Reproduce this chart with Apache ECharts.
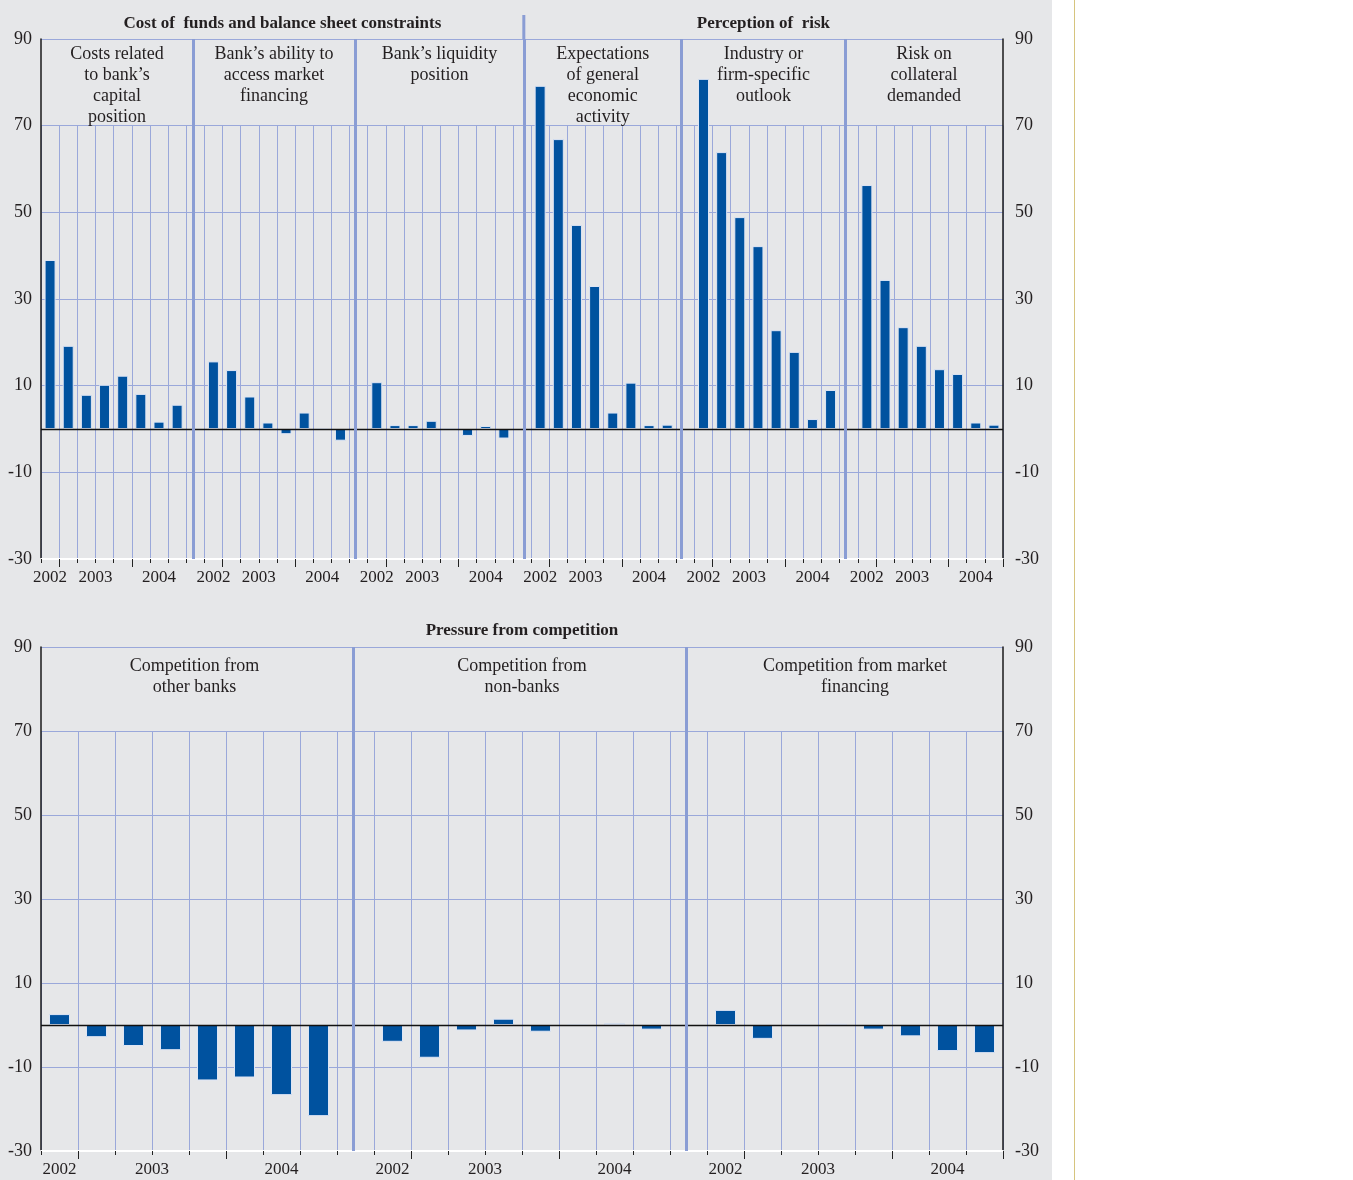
<!DOCTYPE html>
<html><head><meta charset="utf-8">
<script src="https://cdn.jsdelivr.net/npm/echarts@6/dist/echarts.min.js"></script>
<style>
html,body{margin:0;padding:0;background:#fff;}
#bg{position:absolute;left:0;top:0;width:1052px;height:1180px;background:#e6e7e9;}
#rule{position:absolute;left:1074px;top:0;width:1px;height:1180px;background:#d6c47e;}
#chart{position:absolute;left:0;top:0;width:1052px;height:1180px;}
</style></head><body>
<div id="bg"></div><div id="rule"></div><div id="chart"></div>
<script>
// ---- data ----
const quarters = ['2002Q4','2003Q1','2003Q2','2003Q3','2003Q4','2004Q1','2004Q2','2004Q3'];

const topTitles = ['Cost of  funds and balance sheet constraints', 'Perception of  risk'];
const topPanelLabels = [
  'Costs related\nto bank\u2019s\ncapital\nposition',
  'Bank\u2019s ability to\naccess market\nfinancing',
  'Bank\u2019s liquidity\nposition',
  'Expectations\nof general\neconomic\nactivity',
  'Industry or\nfirm-specific\noutlook',
  'Risk on\ncollateral\ndemanded'
];
const capitalPosition      = [39.0, 19.2, 7.9, 10.2, 12.3, 8.1, 1.7, 5.6];
const marketAccess         = [15.6, 13.6, 7.5, 1.5, -1.2, 3.8, 0, -2.7];
const liquidityPosition    = [10.8, 0.9, 0.9, 1.9, 0, -1.6, 0.7, -2.2];
const economicActivity     = [79.2, 66.9, 47.1, 33.0, 3.8, 10.7, 0.9, 1.0];
const firmOutlook          = [80.8, 63.9, 48.9, 42.2, 22.8, 17.8, 2.3, 9.0];
const collateralRisk       = [56.3, 34.4, 23.5, 19.2, 13.8, 12.7, 1.5, 1.0];

const bottomTitle = 'Pressure from competition';
const bottomPanelLabels = [
  'Competition from\nother banks',
  'Competition from\nnon-banks',
  'Competition from market\nfinancing'
];
const otherBanks      = [2.6, -2.9, -5.0, -6.0, -13.2, -12.5, -16.7, -21.7];
const nonBanks        = [-4.0, -7.8, -1.3, 1.5, -1.6, 0, 0.4, -1.1];
const marketFinancing = [3.6, -3.3, 0, 0.3, -1.1, -2.7, -6.2, -6.7];

const yMin = -30, yMax = 90, yStep = 20;

// ---- styles ----
const FONT = '"Liberation Serif", "DejaVu Serif", serif';
const TEXT = '#231f20';
const GRID = '#9aa8da';
const DIV = '#8a9dd4';
const BAR = '#00529f';

function layoutPanels(panels) {
  const cats = [], vals = [], gaps = [], tall = new Set(), yearPos = {}, spans = [];
  panels.forEach((arr, p) => {
    if (p > 0) { gaps.push(cats.length); cats.push('gap' + p); vals.push(null); }
    const start = cats.length;
    arr.forEach((v, i) => { cats.push(p + ':' + quarters[i]); vals.push(v); });
    const byYear = {};
    quarters.forEach((q, i) => {
      const y = q.slice(0, 4);
      (byYear[y] = byYear[y] || []).push(start + i + 0.5);
      if (i > 0 && quarters[i - 1].slice(0, 4) !== y) tall.add(start + i);
    });
    Object.keys(byYear).forEach(y => { const a = byYear[y]; yearPos[String((a[0] + a[a.length - 1]) / 2)] = y; });
    spans.push([start, start + arr.length]);
  });
  return { cats, vals, gaps, tall, yearPos, spans, n: cats.length };
}

const T = layoutPanels([capitalPosition, marketAccess, liquidityPosition, economicActivity, firmOutlook, collateralRisk]);
const B = layoutPanels([otherBanks, nonBanks, marketFinancing]);
// where inside each gap slot the panel divider sits (layout only)
const T_DIV_FRAC = [0.38, 0.3, 0.6, 0.3, 0.3], B_DIV_FRAC = [0.45, 0.45];

const L = 41, R = 49;
const topGrid = { top: 39, height: 520 };
const botGrid = { top: 647, height: 504 };
function upperOffset(g) { return g.height * (yMax - 70) / (yMax - yMin); }

function catAxis(gridIndex, P, main) {
  return {
    type: 'category', gridIndex, data: P.cats, position: 'bottom', boundaryGap: true,
    axisLine: main ? { show: true, onZero: false, lineStyle: { color: '#ffffff', width: 2 } } : { show: false },
    axisTick: main ? { show: true, interval: 0, length: 4, lineStyle: { color: '#222', width: 1 } }
                   : { show: true, interval: (i) => P.tall.has(i), length: 8, lineStyle: { color: '#222', width: 1 } },
    axisLabel: { show: false },
    splitLine: main ? { show: false } : { show: true, interval: 0, lineStyle: { color: GRID, width: 1 } }
  };
}
function yearAxis(gridIndex, P) {
  return {
    type: 'value', gridIndex, min: 0, max: P.n, interval: 0.5, position: 'bottom',
    axisLine: { show: false }, axisTick: { show: false }, splitLine: { show: false },
    axisLabel: { show: true, margin: 10, fontFamily: FONT, fontSize: 17, color: TEXT,
      formatter: (v) => P.yearPos[String(v)] || '' }
  };
}
function valAxis(gridIndex, pos) {
  return {
    type: 'value', gridIndex, position: pos, min: yMin, max: yMax, interval: yStep,
    axisLine: { show: true, lineStyle: { color: '#1a1a1a', width: 1.5 } },
    axisTick: { show: false },
    axisLabel: { show: true, margin: pos === 'left' ? 9 : 12, fontFamily: FONT, fontSize: 18, color: TEXT },
    splitLine: pos === 'left' ? { show: true, lineStyle: { color: GRID, width: 1 } } : { show: false }
  };
}
function hiddenY(gridIndex) { return { type: 'value', gridIndex, show: false, min: 0, max: 1 }; }

function barSeries(xi, yi, P, bw) {
  return {
    type: 'bar', xAxisIndex: xi, yAxisIndex: yi, data: P.vals, barWidth: bw,
    itemStyle: { color: BAR, borderColor: '#dde5f5', borderWidth: 1 },
    markLine: {
      silent: true, symbol: 'none', label: { show: false }, animation: false,
      data: [{ yAxis: 0, lineStyle: { color: '#111', width: 1.3, type: 'solid' } }]
    }
  };
}
function dividerSeries(xi, yi, P, fr) {
  return {
    type: 'line', xAxisIndex: xi, yAxisIndex: yi, data: [], silent: true,
    markLine: {
      silent: true, symbol: 'none', label: { show: false }, animation: false,
      data: P.gaps.map((g, k) => ({ xAxis: g + fr[k], lineStyle: { color: DIV, width: 3, type: 'solid' } }))
    }
  };
}

const chart = echarts.init(document.getElementById('chart'), null, { renderer: 'canvas' });
chart.setOption({
  animation: false,
  grid: [
    { left: L, right: R, top: topGrid.top, height: topGrid.height },
    { left: L, right: R, top: topGrid.top + upperOffset(topGrid), height: topGrid.height - upperOffset(topGrid) },
    { left: L, right: R, top: botGrid.top, height: botGrid.height },
    { left: L, right: R, top: botGrid.top + upperOffset(botGrid), height: botGrid.height - upperOffset(botGrid) }
  ],
  xAxis: [
    catAxis(0, T, true), yearAxis(0, T), catAxis(1, T, false),
    catAxis(2, B, true), yearAxis(2, B), catAxis(3, B, false)
  ],
  yAxis: [
    valAxis(0, 'left'), valAxis(0, 'right'), hiddenY(1),
    valAxis(2, 'left'), valAxis(2, 'right'), hiddenY(3)
  ],
  series: [
    barSeries(0, 0, T, 11), dividerSeries(1, 0, T, T_DIV_FRAC),
    barSeries(3, 3, B, 21), dividerSeries(4, 3, B, B_DIV_FRAC)
  ]
});

// ---- text placed from the axes' own scale ----
const gfx = [];
function px(xi, v) { return chart.convertToPixel({ xAxisIndex: xi }, v); }
function label(x, y, text, bold) {
  gfx.push({ type: 'text', silent: true, z: 10, style: {
    text, x, y, textAlign: 'center', textVerticalAlign: 'top',
    font: (bold ? 'bold 17px ' : '18px ') + FONT, lineHeight: 21, fill: TEXT } });
}
function panelCenters(P, fr) {
  const e = [0].concat(P.gaps.map((g, k) => g + fr[k])).concat([P.n]);
  return P.spans.map((s, i) => (e[i] + e[i + 1]) / 2);
}
panelCenters(T, T_DIV_FRAC).forEach((c, i) => label(px(1, c), topGrid.top + 5, topPanelLabels[i], false));
B.spans.forEach((s, i) => label(px(4, (s[0] + s[1]) / 2 + (i === 0 ? 0.15 : 0)), botGrid.top + 9, bottomPanelLabels[i], false));
const mainX = px(1, T.gaps[2] + T_DIV_FRAC[2]);
label((px(1, 0) + mainX) / 2, topGrid.top - 26, topTitles[0], true);
label((mainX + px(1, T.n)) / 2, topGrid.top - 26, topTitles[1], true);
label(px(4, (B.spans[0][0] + B.spans[2][1]) / 2), botGrid.top - 27, bottomTitle, true);
// main section divider extends above the plot
gfx.push({ type: 'line', silent: true, shape: { x1: mainX, y1: 15, x2: mainX, y2: topGrid.top }, style: { stroke: DIV, lineWidth: 3 } });
chart.setOption({ graphic: gfx });
</script>
</body></html>
